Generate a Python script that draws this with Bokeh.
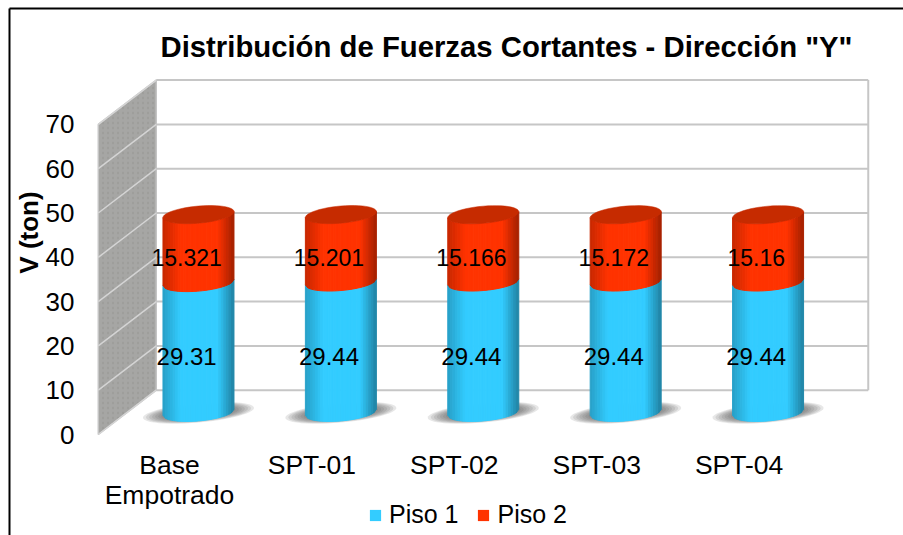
import math
from bokeh.plotting import figure
from bokeh.models import Range1d, FixedTicker, Legend, LegendItem, Label
from bokeh.embed import file_html
from bokeh.resources import INLINE

categories = ["Base\nEmpotrado", "SPT-01", "SPT-02", "SPT-03", "SPT-04"]
piso_1 = [29.31, 29.44, 29.44, 29.44, 29.44]
piso_2 = [15.321, 15.201, 15.166, 15.172, 15.16]
piso_2_labels = ["15.321", "15.201", "15.166", "15.172", "15.16"]
piso_1_labels = ["29.31", "29.44", "29.44", "29.44", "29.44"]
y_ticks = [0, 10, 20, 30, 40, 50, 60, 70]

BLUE, RED, RED_TOP = (51, 204, 255), (255, 51, 0), "#C62B00"
FONT = "Liberation Sans"
DX, DY = 0.407, 10.0          # full depth of the box, in x and value units
A, B, S = 0.2493, 1.94, 0.68  # cylinder radius, ellipse half height, ellipse tilt
XMIN, XMAX, YMIN, YMAX = -1.1868, 5.1545, -22.796, 97.964

p = figure(width=903, height=535, output_backend="svg", toolbar_location=None,
           x_range=Range1d(XMIN, XMAX), y_range=Range1d(YMIN, YMAX),
           min_border_left=0, min_border_right=0, min_border_top=0, min_border_bottom=0,
           background_fill_color="white", border_fill_color="white", outline_line_color=None)
p.grid.visible = False

# axes, drawn inside the frame
ax = p.yaxis[0]
ax.fixed_location = -0.604
ax.ticker = FixedTicker(ticks=y_ticks)
ax.axis_line_color = None
ax.major_tick_line_color = None
ax.minor_tick_line_color = None
ax.major_label_standoff = 3
ax.major_label_text_font = FONT
ax.major_label_text_font_size = "26px"
ax.major_label_text_color = "black"

xa = p.xaxis[0]
xa.fixed_location = 0
xa.ticker = FixedTicker(ticks=list(range(len(categories))))
xa.major_label_overrides = {i: c for i, c in enumerate(categories)}
xa.axis_line_color = None
xa.major_tick_line_color = None
xa.minor_tick_line_color = None
xa.major_label_standoff = 9
xa.major_label_text_font = FONT
xa.major_label_text_font_size = "26.5px"
xa.major_label_text_line_height = 1.0
xa.major_label_text_color = "black"

# walls
x0, x1 = -0.5, len(categories) - 0.5
top = y_ticks[-1]
p.patch([x0, x0 + DX, x0 + DX, x0], [0, DY, top + DY, top],
        fill_color="#A6A6A4", line_color="#C4C4C4", line_width=1.5,
        hatch_pattern="dot", hatch_color="#8A8A88", hatch_alpha=0.3, hatch_scale=5)
p.segment([x0] * len(y_ticks), y_ticks, [x0 + DX] * len(y_ticks), [t + DY for t in y_ticks],
          line_color="#D4D4D4", line_width=1.5)
p.segment([x0 + DX] * len(y_ticks), [t + DY for t in y_ticks],
          [x1 + DX] * len(y_ticks), [t + DY for t in y_ticks],
          line_color="#C6C6C6", line_width=2)
p.segment([x1 + DX], [DY], [x1 + DX], [top + DY], line_color="#C6C6C6", line_width=2)


def ell(cx, cy, a, b, s, n=48):
    ts = [2 * math.pi * k / n for k in range(n)]
    return ([cx + a * math.cos(t) for t in ts],
            [cy + b * math.sin(t) + s * math.cos(t) for t in ts])


# floor shadows
sx, sy = [], []
for i in range(len(categories)):
    for k in range(8):
        f = 1 - k * 0.055
        xs, ys = ell(i + DX / 2, DY / 2 - 0.1, 0.39 * f, 2.2 * f, 1.1 * f)
        sx.append(xs); sy.append(ys)
p.patches(sx, sy, fill_color="#555555", fill_alpha=0.14, line_color=None)


def shade(rgb, u):
    # cylinder shading across the width, u in [-1, 1]
    d = abs(u - 0.05)
    if u > 0.05:
        k = 1.0 - 0.36 * max(0.0, d - 0.5) / 0.45
    else:
        k = 1.0 - 0.22 * max(0.0, d - 0.55) / 0.5
    return "#%02x%02x%02x" % tuple(int(c * k) for c in rgb)


def body(cx, v0, v1, rgb, n=28):
    out_x, out_y, out_c = [], [], []
    lo = lambda u, v: v + DY / 2 - B * math.sqrt(max(0, 1 - u * u)) + S * u
    for k in range(n):
        u0 = -1 + 2 * k / n
        u1 = -1 + 2 * (k + 1) / n
        out_x.append([cx + A * u0, cx + A * u1, cx + A * u1, cx + A * u0])
        out_y.append([lo(u0, v0), lo(u1, v0), lo(u1, v1), lo(u0, v1)])
        out_c.append(shade(rgb, (u0 + u1) / 2))
    return out_x, out_y, out_c


bx, by, bc = [], [], []
for i in range(len(categories)):
    cx = i + DX / 2
    for v0, v1, rgb in ((0, piso_1[i], BLUE), (piso_1[i], piso_1[i] + piso_2[i], RED)):
        a, b, c = body(cx, v0, v1, rgb)
        bx += a; by += b; bc += c
p.patches(bx, by, fill_color=bc, line_color=bc, line_width=1.0)

tx, ty = [], []
for i in range(len(categories)):
    xs, ys = ell(i + DX / 2, piso_1[i] + piso_2[i] + DY / 2, A, B, S)
    tx.append(xs); ty.append(ys)
p.patches(tx, ty, fill_color=RED_TOP, line_color=RED_TOP, line_width=0.5)

# data labels
LBL = 0.12
xs = [i + LBL for i in range(len(categories))]
p.text(xs, [v / 2 + 3 for v in piso_1], text=piso_1_labels, text_align="center",
       text_baseline="middle", text_font_size="24px", text_font={"value": FONT}, text_color="black")
p.text(xs, [a + b / 2 + 3 for a, b in zip(piso_1, piso_2)], text=piso_2_labels, text_align="center",
       text_baseline="middle", text_font_size="23px", text_font={"value": FONT}, text_color="black")

# legend
r1 = p.quad(left=[0], right=[0], top=[0], bottom=[0], fill_color="#33CCFF", line_color=None)
r2 = p.quad(left=[0], right=[0], top=[0], bottom=[0], fill_color="#FF3300", line_color=None)
leg = Legend(items=[LegendItem(label="Piso 1", renderers=[r1]), LegendItem(label="Piso 2", renderers=[r2])],
             orientation="horizontal", location=(368, 6), border_line_color=None,
             background_fill_alpha=0, padding=0, margin=0, spacing=18, glyph_width=14, glyph_height=14,
             label_text_font=FONT, label_text_font_size="25px", label_text_color="black",
             label_standoff=7)
p.add_layout(leg)

# title and y label
p.add_layout(Label(x=506, y=489, x_units="screen", y_units="screen", text='Distribución de Fuerzas Cortantes - Dirección "Y"',
                   text_font=FONT, text_font_style="bold", text_font_size="29.3px",
                   text_align="center", text_baseline="middle", text_color="black"))
p.add_layout(Label(x=28, y=303, x_units="screen", y_units="screen", text="V (ton)", angle=math.pi / 2,
                   text_font=FONT, text_font_style="bold", text_font_size="26px",
                   text_align="center", text_baseline="middle", text_color="black"))

# chart frame (left and top edges)
FX, FY = -1.1236, 96.164
p.segment([FX, FX], [YMIN, FY], [FX, XMAX], [FY, FY], line_color="black", line_width=2)

open("out.html", "w").write(file_html(p, INLINE))
